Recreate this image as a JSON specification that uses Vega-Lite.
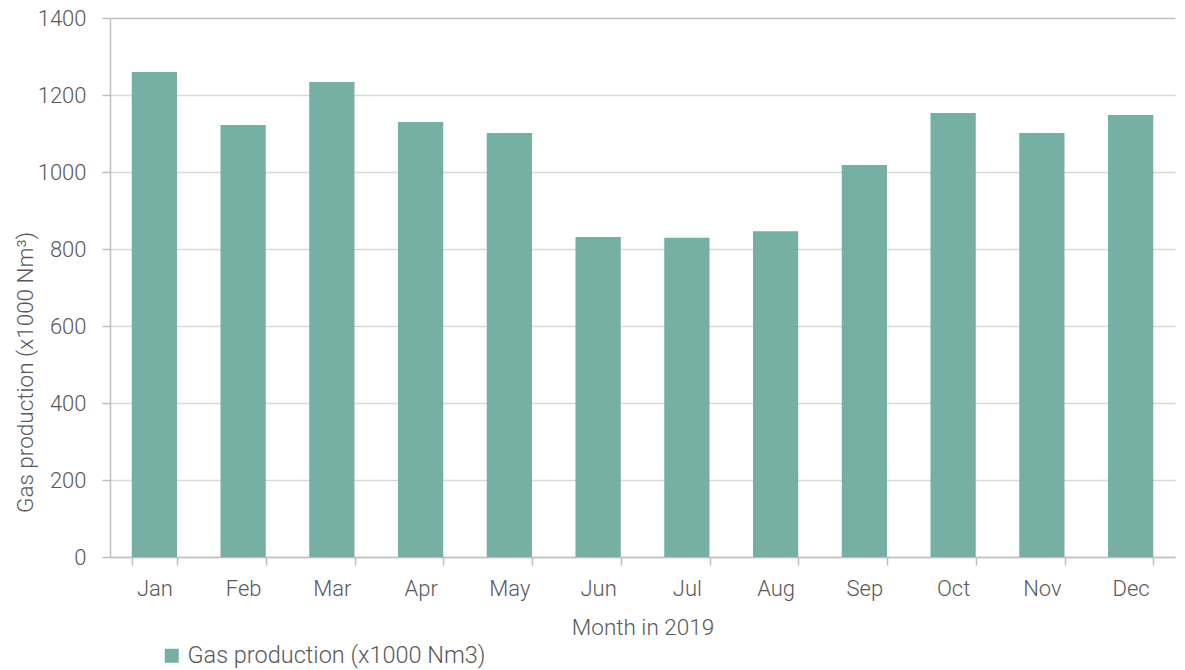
{
  "$schema": "https://vega.github.io/schema/vega-lite/v6.json",
  "autosize": {"type": "none"},
  "padding": {"left": 110, "top": 18, "right": 10, "bottom": 113},
  "width": 1065,
  "height": 539,
  "background": "white",
  "config": {
    "view": {"stroke": null},
    "font": "Roboto",
    "axis": {"labelColor": "#595959", "titleColor": "#595959", "labelFont": "Roboto", "titleFont": "Roboto", "labelFontSize": 22, "titleFontSize": 22.5, "labelFontWeight": 300, "titleFontWeight": 300, "domainColor": "#bfbfbf", "tickColor": "#bfbfbf", "domainWidth": 1.5, "tickWidth": 1.5, "tickSize": 8}
  },
  "data": {"values": [
    {"month": "Jan", "value": 1260, "series": "Gas production (x1000 Nm3)"},
    {"month": "Feb", "value": 1122, "series": "Gas production (x1000 Nm3)"},
    {"month": "Mar", "value": 1234, "series": "Gas production (x1000 Nm3)"},
    {"month": "Apr", "value": 1130, "series": "Gas production (x1000 Nm3)"},
    {"month": "May", "value": 1101, "series": "Gas production (x1000 Nm3)"},
    {"month": "Jun", "value": 831, "series": "Gas production (x1000 Nm3)"},
    {"month": "Jul", "value": 829, "series": "Gas production (x1000 Nm3)"},
    {"month": "Aug", "value": 846, "series": "Gas production (x1000 Nm3)"},
    {"month": "Sep", "value": 1018, "series": "Gas production (x1000 Nm3)"},
    {"month": "Oct", "value": 1153, "series": "Gas production (x1000 Nm3)"},
    {"month": "Nov", "value": 1101, "series": "Gas production (x1000 Nm3)"},
    {"month": "Dec", "value": 1148, "series": "Gas production (x1000 Nm3)"}
  ]},
  "mark": {"type": "bar"},
  "encoding": {
    "x": {"field": "month", "type": "nominal", "sort": null,
      "scale": {"paddingInner": 0.49, "paddingOuter": 0.245},
      "axis": {"title": "Month in 2019", "labelAngle": 0, "tickBand": "extent", "labelPadding": 13, "titlePadding": 17}},
    "y": {"field": "value", "type": "quantitative",
      "scale": {"domain": [0, 1400]},
      "axis": {"title": "Gas production (x1000 Nm³)", "format": "d", "values": [0, 200, 400, 600, 800, 1000, 1200, 1400], "labelPadding": 16,
        "titleX": -85, "titleY": 354, "titleBaseline": "middle", "titleAnchor": "middle",
        "gridColor": {"condition": {"test": "datum.value === 1400", "value": "#bfbfbf"}, "value": "#d9d9d9"}, "gridWidth": 1.5}},
    "color": {"field": "series", "type": "nominal",
      "scale": {"range": ["#76afa4"]},
      "legend": {"title": null, "orient": "none", "legendX": 50, "legendY": 626, "symbolType": "square", "symbolSize": 196, "symbolStrokeWidth": 0, "symbolOffset": 0, "labelOffset": 4, "labelFontSize": 23.5, "labelFontWeight": 300, "labelColor": "#595959", "labelFont": "Roboto", "labelLimit": 500}}
  }
}
